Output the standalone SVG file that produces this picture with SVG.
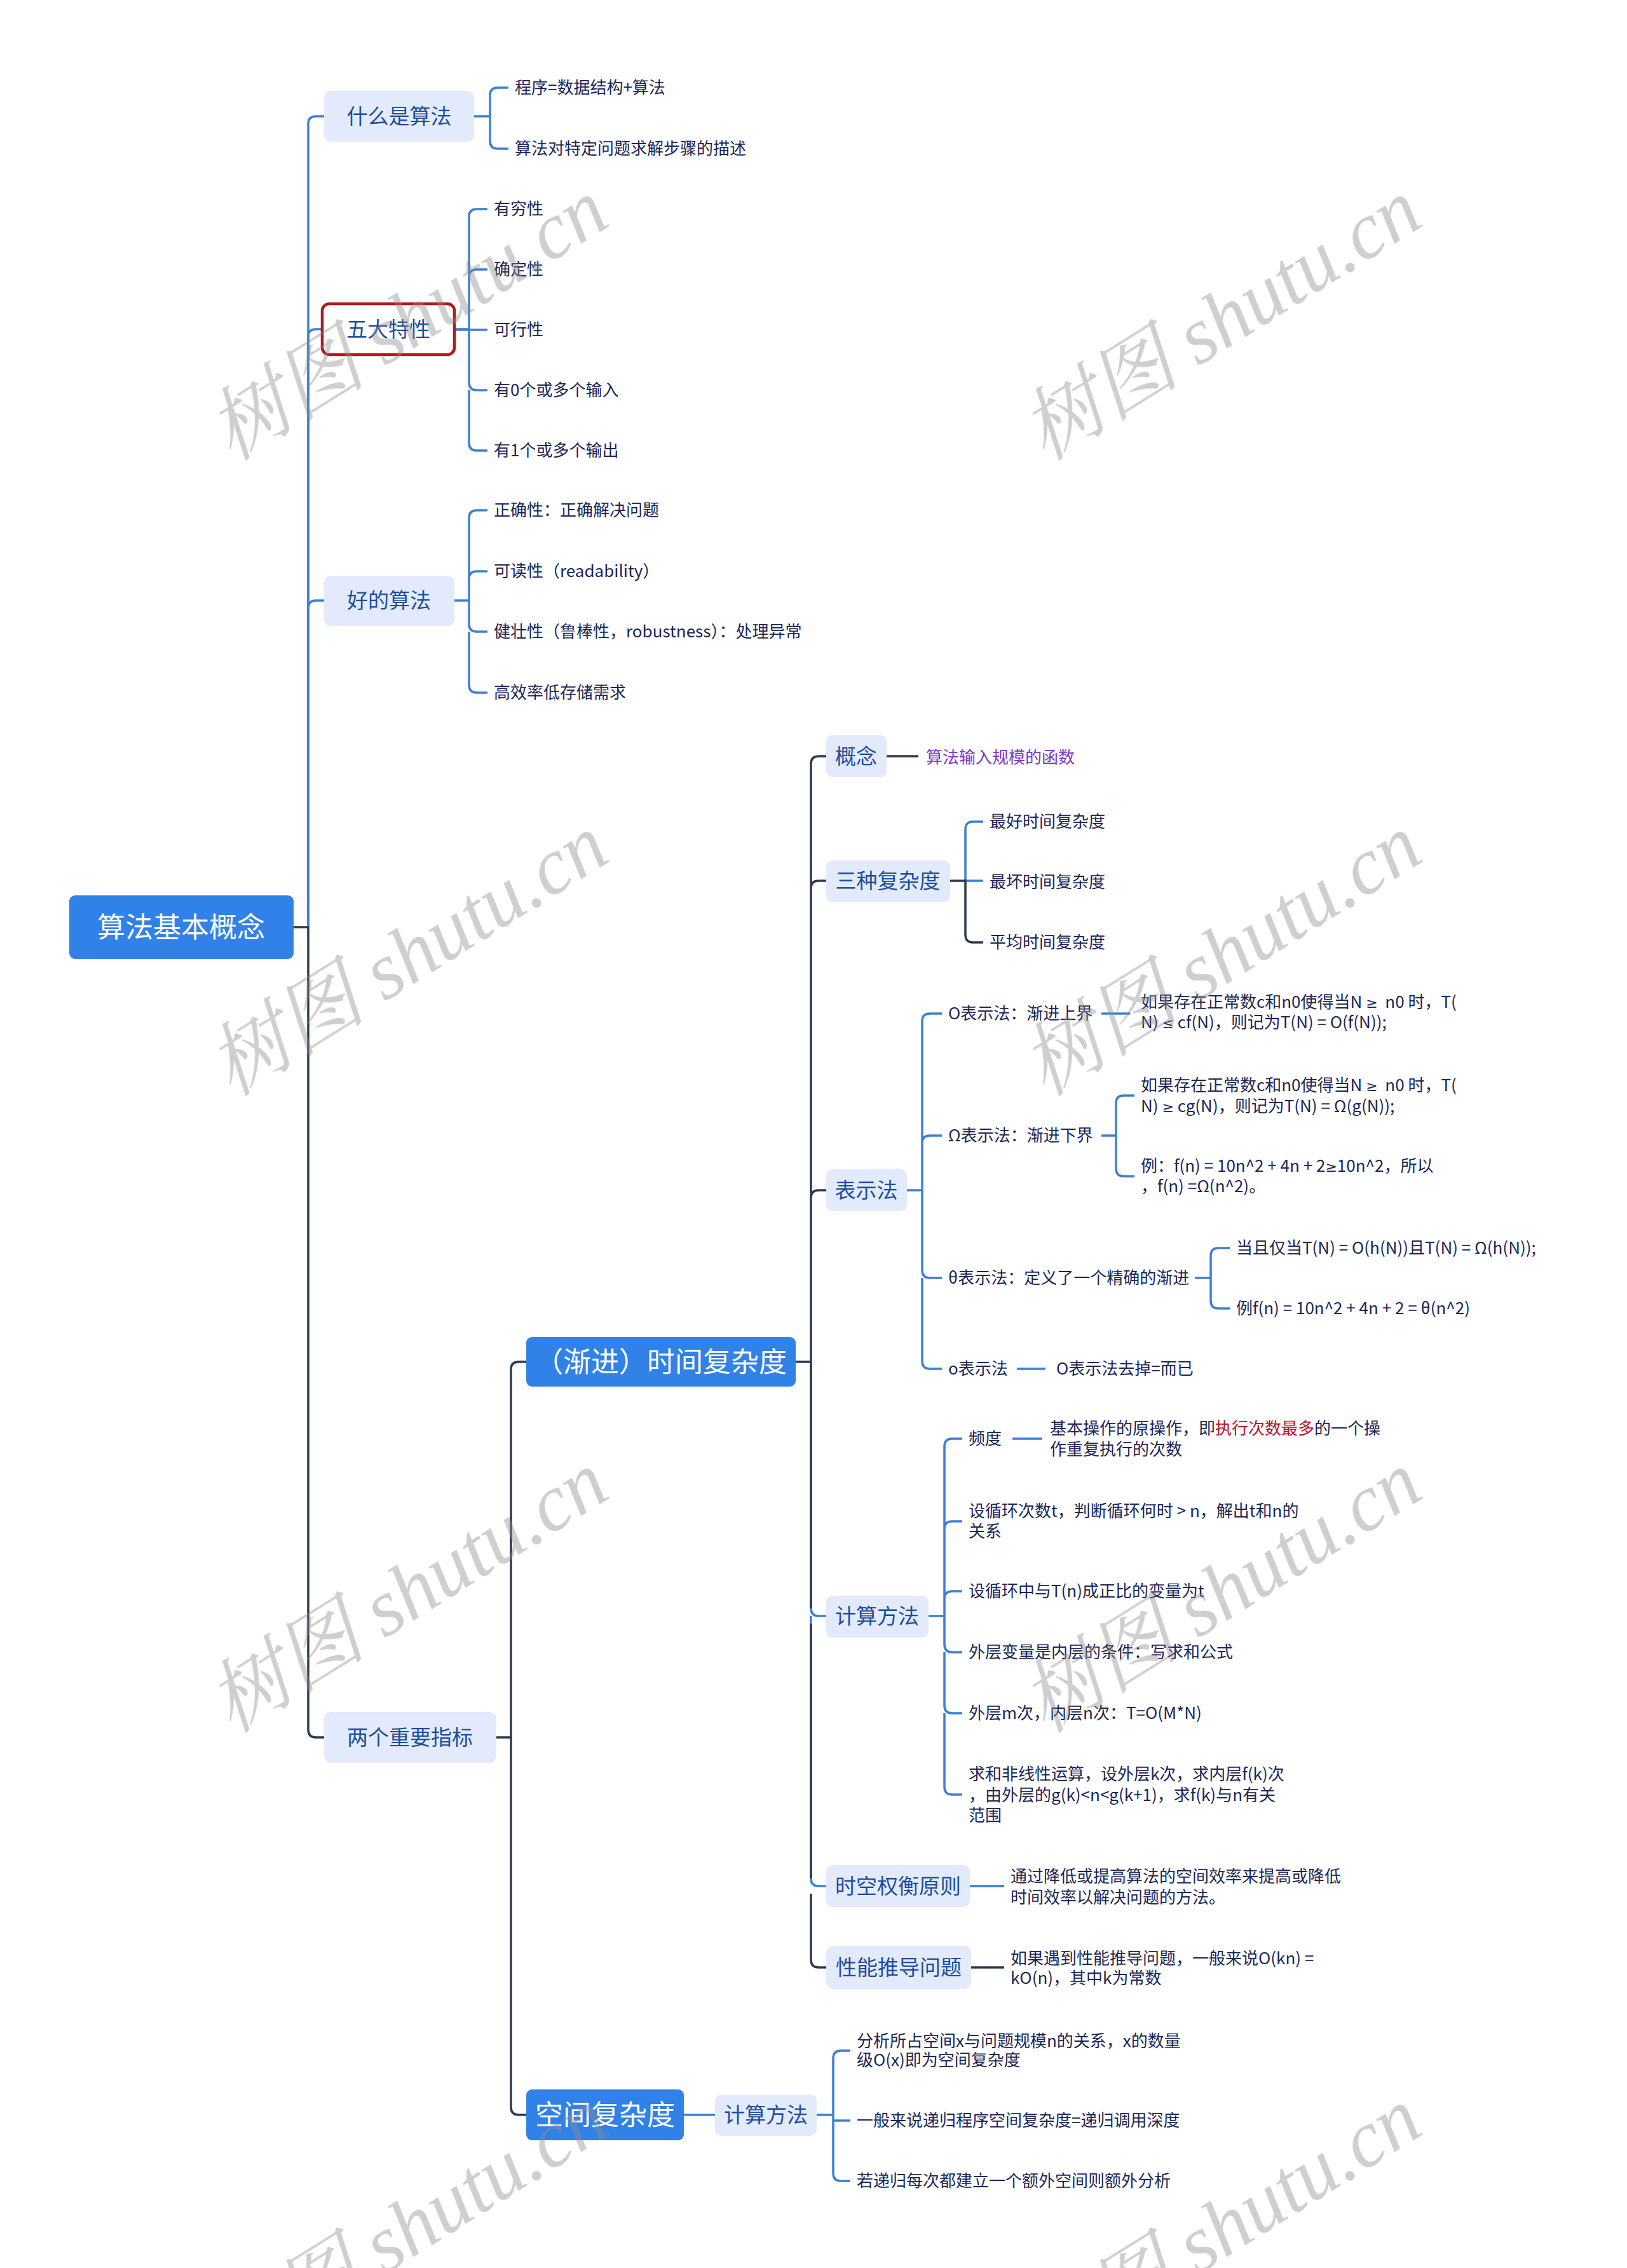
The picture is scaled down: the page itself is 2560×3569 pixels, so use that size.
<svg xmlns="http://www.w3.org/2000/svg" width="2560" height="3569" viewBox="0 0 2560 3569">
<style>
text{font-family:"Noto Sans CJK SC","Noto Sans",sans-serif;}
.leaf{font-size:26px;fill:#1b2656;white-space:pre;}
.l1{font-size:33px;fill:#1d4e9e;text-anchor:middle;}
.big{font-size:44px;fill:#ffffff;text-anchor:middle;}
.box{fill:#e2eafb;}
.main{fill:#3182e8;}
.cb{fill:none;stroke:#3c7fd5;stroke-width:3.5;}
.cd{fill:none;stroke:#2b3a50;stroke-width:3.5;}
.m{font-family:"DejaVu Sans",sans-serif;font-size:22px;}
</style>
<rect width="2560" height="3569" fill="#ffffff"/>
<g id="connectors">
<path class="cb" d="M485 1459 V195 Q485 183 497 183 H510"/>
<path class="cb" d="M485 1459 V530 Q485 518 497 518 H507"/>
<path class="cb" d="M485 1459 V957 Q485 945 497 945 H510"/>
<path class="cd" d="M462 1459 H485 V2722 Q485 2734 497 2734 H510"/>
<path class="cb" d="M746 183 H771 V150 Q771 138 783 138 H800 M746 183 H771 V222 Q771 234 783 234 H800"/>
<path class="cb" d="M715 518 H738 V341 Q738 329 750 329 H767 M738 436 Q738 424 750 424 H767 M715 519 H767 M738 518 V602 Q738 614 750 614 H767 M738 614 V697 Q738 709 750 709 H767"/>
<path class="cb" d="M715 945 H738 V815 Q738 803 750 803 H767 M738 911 Q738 899 750 899 H767 M738 945 V982 Q738 994 750 994 H767 M738 994 V1078 Q738 1090 750 1090 H767"/>
<path class="cd" d="M781 2734 H804 V2155 Q804 2143 816 2143 H828 M804 2734 V3316 Q804 3328 816 3328 H828"/>
<path class="cb" d="M1276 2143 V2531 Q1276 2543 1288 2543 H1300 M1276 2543 V2956 Q1276 2968 1288 2968 H1300"/>
<path class="cd" d="M1252 2143 H1276 V1202 Q1276 1190 1288 1190 H1300 M1276 1398 Q1276 1386 1288 1386 H1300 M1276 1885 Q1276 1873 1288 1873 H1300 M1276 2143 V2531 M1276 2555 V2956 M1276 2980 V3084 Q1276 3096 1288 3096 H1300"/>
<path class="cd" d="M1395 1190 H1445"/>
<path class="cb" d="M1519 1386 V1305 Q1519 1293 1531 1293 H1547 M1519 1386 H1547"/>
<path class="cd" d="M1495 1386 H1519 V1471 Q1519 1483 1531 1483 H1547"/>
<path class="cb" d="M1427 1873 H1451 V1607 Q1451 1595 1463 1595 H1482 M1451 1799 Q1451 1787 1463 1787 H1482 M1451 1873 V1999 Q1451 2011 1463 2011 H1482 M1451 2011 V2142 Q1451 2154 1463 2154 H1482"/>
<path class="cb" d="M1733 1595 H1778"/>
<path class="cb" d="M1733 1787 H1756 V1736 Q1756 1724 1768 1724 H1785 M1756 1787 V1839 Q1756 1851 1768 1851 H1785"/>
<path class="cb" d="M1880 2011 H1905 V1976 Q1905 1964 1917 1964 H1935 M1905 2011 V2047 Q1905 2059 1917 2059 H1935"/>
<path class="cb" d="M1600 2154 H1645"/>
<path class="cb" d="M1461 2543 H1486 V2276 Q1486 2264 1498 2264 H1514 M1486 2406 Q1486 2394 1498 2394 H1514 M1486 2516 Q1486 2504 1498 2504 H1514 M1486 2543 V2588 Q1486 2600 1498 2600 H1514 M1486 2600 V2684 Q1486 2696 1498 2696 H1514 M1486 2696 V2812 Q1486 2824 1498 2824 H1514"/>
<path class="cb" d="M1593 2264 H1640"/>
<path class="cb" d="M1526 2968 H1580"/>
<path class="cd" d="M1528 3096 H1580"/>
<path class="cb" d="M1076 3328 H1125"/>
<path class="cb" d="M1285 3328 H1311 V3239 Q1311 3227 1323 3227 H1338 M1311 3328 V3337 H1338 M1311 3337 V3420 Q1311 3432 1323 3432 H1338"/>
</g>
<g id="root"><rect class="main" x="109" y="1409" width="353" height="100" rx="9"/><text class="big" x="285" y="1475">算法基本概念</text></g>
<g id="n-what"><rect class="box" x="510" y="143" width="236" height="80" rx="11"/><text class="l1" x="628" y="195">什么是算法</text></g>
<g id="n-five"><rect x="507" y="478" width="208" height="80" rx="11" fill="#ffffff" stroke="#b5161b" stroke-width="4.5"/><text class="l1" x="611" y="530">五大特性</text></g>
<g id="n-good"><rect class="box" x="510" y="906" width="205" height="79" rx="11"/><text class="l1" x="612" y="957">好的算法</text></g>
<g id="n-two"><rect class="box" x="510" y="2694" width="271" height="80" rx="11"/><text class="l1" x="645" y="2746">两个重要指标</text></g>
<g id="n-time"><rect class="main" x="828" y="2104" width="424" height="78" rx="9"/><text class="big" x="1040" y="2159">（渐进）时间复杂度</text></g>
<g id="n-space"><rect class="main" x="828" y="3288" width="248" height="80" rx="9"/><text class="big" x="952" y="3344">空间复杂度</text></g>
<g id="n-concept"><rect class="box" x="1300" y="1157" width="95" height="66" rx="10"/><text class="l1" x="1347" y="1202">概念</text></g>
<g id="n-three"><rect class="box" x="1300" y="1354" width="195" height="65" rx="10"/><text class="l1" x="1397" y="1398">三种复杂度</text></g>
<g id="n-repr"><rect class="box" x="1300" y="1840" width="127" height="66" rx="10"/><text class="l1" x="1363" y="1885">表示法</text></g>
<g id="n-calc"><rect class="box" x="1300" y="2511" width="161" height="66" rx="10"/><text class="l1" x="1380" y="2555">计算方法</text></g>
<g id="n-trade"><rect class="box" x="1300" y="2935" width="226" height="66" rx="10"/><text class="l1" x="1413" y="2980">时空权衡原则</text></g>
<g id="n-perf"><rect class="box" x="1300" y="3062" width="228" height="68" rx="10"/><text class="l1" x="1414" y="3108">性能推导问题</text></g>
<g id="n-calc2"><rect class="box" x="1125" y="3296" width="160" height="65" rx="10"/><text class="l1" x="1205" y="3340">计算方法</text></g>
<g id="leaves">
<text class="leaf" x="810" y="147">程序=数据结构+算法</text>
<text class="leaf" x="810" y="243">算法对特定问题求解步骤的描述</text>
<text class="leaf" x="777" y="338">有穷性</text>
<text class="leaf" x="777" y="433">确定性</text>
<text class="leaf" x="777" y="528">可行性</text>
<text class="leaf" x="777" y="623">有0个或多个输入</text>
<text class="leaf" x="777" y="718">有1个或多个输出</text>
<text class="leaf" x="777" y="812">正确性：正确解决问题</text>
<text class="leaf" x="777" y="908">可读性（readability）</text>
<text class="leaf" x="777" y="1003">健壮性（鲁棒性，robustness）：处理异常</text>
<text class="leaf" x="777" y="1099">高效率低存储需求</text>
<text class="leaf" x="1457" y="1201" style="fill:#8034c9">算法输入规模的函数</text>
<text class="leaf" x="1557" y="1302">最好时间复杂度</text>
<text class="leaf" x="1557" y="1397">最坏时间复杂度</text>
<text class="leaf" x="1557" y="1492">平均时间复杂度</text>
<text class="leaf" x="1492" y="1604">O表示法：渐进上界</text>
<text class="leaf" x="1492" y="1796">Ω表示法：渐进下界</text>
<text class="leaf" x="1492" y="2020">θ表示法：定义了一个精确的渐进</text>
<text class="leaf" x="1492" y="2163">o表示法</text>
<text class="leaf" x="1795" y="1586">如果存在正常数c和n0使得当N <tspan class="m">≥</tspan>  n0 时，T(</text>
<text class="leaf" x="1795" y="1618">N) <tspan class="m">≤</tspan> cf(N)，则记为T(N) = O(f(N));</text>
<text class="leaf" x="1795" y="1717">如果存在正常数c和n0使得当N <tspan class="m">≥</tspan>  n0 时，T(</text>
<text class="leaf" x="1795" y="1750">N) <tspan class="m">≥</tspan> cg(N)，则记为T(N) = Ω(g(N));</text>
<text class="leaf" x="1795" y="1844">例：f(n) = 10n^2 + 4n + 2<tspan class="m">≥</tspan>10n^2，所以</text>
<text class="leaf" x="1795" y="1876">，f(n) =Ω(n^2)。</text>
<text class="leaf" x="1945" y="1973">当且仅当T(N) = O(h(N))且T(N) = Ω(h(N));</text>
<text class="leaf" x="1945" y="2068">例f(n) = 10n^2 + 4n + 2 = θ(n^2)</text>
<text class="leaf" x="1662" y="2163">O表示法去掉=而已</text>
<text class="leaf" x="1524" y="2273">频度</text>
<text class="leaf" x="1652" y="2257">基本操作的原操作，即<tspan fill="#c1121f">执行次数最多</tspan>的一个操</text>
<text class="leaf" x="1652" y="2290">作重复执行的次数</text>
<text class="leaf" x="1524" y="2387">设循环次数t，判断循环何时 &gt; n，解出t和n的</text>
<text class="leaf" x="1524" y="2419">关系</text>
<text class="leaf" x="1524" y="2513">设循环中与T(n)成正比的变量为t</text>
<text class="leaf" x="1524" y="2609">外层变量是内层的条件：写求和公式</text>
<text class="leaf" x="1524" y="2705">外层m次，内层n次：T=O(M*N)</text>
<text class="leaf" x="1524" y="2801">求和非线性运算，设外层k次，求内层f(k)次</text>
<text class="leaf" x="1524" y="2834">，由外层的g(k)&lt;n&lt;g(k+1)，求f(k)与n有关</text>
<text class="leaf" x="1524" y="2866">范围</text>
<text class="leaf" x="1590" y="2962">通过降低或提高算法的空间效率来提高或降低</text>
<text class="leaf" x="1590" y="2995">时间效率以解决问题的方法。</text>
<text class="leaf" x="1590" y="3091">如果遇到性能推导问题，一般来说O(kn) =</text>
<text class="leaf" x="1590" y="3122">kO(n)，其中k为常数</text>
<text class="leaf" x="1348" y="3221">分析所占空间x与问题规模n的关系，x的数量</text>
<text class="leaf" x="1348" y="3251">级O(x)即为空间复杂度</text>
<text class="leaf" x="1348" y="3346">一般来说递归程序空间复杂度=递归调用深度</text>
<text class="leaf" x="1348" y="3441">若递归每次都建立一个额外空间则额外分析</text>
</g>
<g id="watermarks" style="font-family:'Liberation Serif','Noto Serif CJK SC','Noto Sans CJK SC',serif;font-style:italic;font-size:126px;fill:#8c8c8c;opacity:0.42;text-anchor:middle;">
<text style="font-family:inherit" x="643" y="546" transform="rotate(-32 643 506)">树图 shutu.cn</text>
<text style="font-family:inherit" x="1923" y="546" transform="rotate(-32 1923 506)">树图 shutu.cn</text>
<text style="font-family:inherit" x="643" y="1546" transform="rotate(-32 643 1506)">树图 shutu.cn</text>
<text style="font-family:inherit" x="1923" y="1546" transform="rotate(-32 1923 1506)">树图 shutu.cn</text>
<text style="font-family:inherit" x="643" y="2548" transform="rotate(-32 643 2508)">树图 shutu.cn</text>
<text style="font-family:inherit" x="1923" y="2548" transform="rotate(-32 1923 2508)">树图 shutu.cn</text>
<text style="font-family:inherit" x="643" y="3549" transform="rotate(-32 643 3509)">树图 shutu.cn</text>
<text style="font-family:inherit" x="1923" y="3549" transform="rotate(-32 1923 3509)">树图 shutu.cn</text>
</g>
</svg>
